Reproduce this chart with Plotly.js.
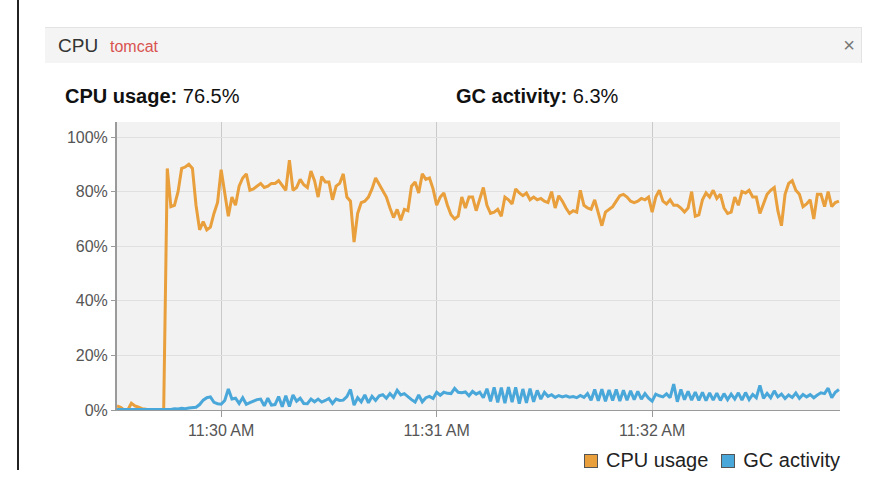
<!DOCTYPE html>
<html>
<head>
<meta charset="utf-8">
<script src="https://cdn.plot.ly/plotly-3.0.1.min.js"></script>
<style>
  html, body { margin: 0; padding: 0; background: #ffffff; }
  body { width: 880px; height: 478px; position: relative; overflow: hidden; font-family: "Liberation Sans", Arial, sans-serif; }
  #leftbar { position: absolute; left: 17px; top: 0; width: 2px; height: 470px; background: #222; }
  #header { position: absolute; left: 45px; top: 27px; width: 816px; height: 35px; background: #f4f4f4; border-top: 1px solid #e3e3e3; border-right: 1px solid #e3e3e3; }
  #header .cpu { position: absolute; left: 13px; top: 7px; font-size: 19px; color: #333; }
  #header .app { position: absolute; left: 65px; top: 10px; font-size: 16px; color: #d9534f; }
  #header .close { position: absolute; right: 6px; top: 6px; font-size: 20px; color: #777; }
  .stat { position: absolute; top: 85px; font-size: 20px; color: #111; }
  .stat b { font-weight: bold; }
  #chart { position: absolute; left: 0; top: 0; width: 880px; height: 478px; }
  #legend { position: absolute; top: 449px; left: 584px; font-size: 20px; color: #222; white-space: nowrap; }
  #legend .item { display: inline-block; margin-right: 13px; }
  #legend .sw { display: inline-block; width: 12px; height: 12px; border: 1px solid #555; vertical-align: -1px; margin-right: 8px; }
</style>
</head>
<body>
<div id="leftbar"></div>
<div id="header"><span class="cpu">CPU</span><span class="app">tomcat</span><span class="close">×</span></div>
<div class="stat" style="left:65px"><b>CPU usage:</b> 76.5%</div>
<div class="stat" style="left:456px"><b>GC activity:</b> 6.3%</div>
<div id="chart"></div>
<div id="legend"></div>
<script>
// Sampling: one sample per second starting at 11:29:31
const startTime = "2024-01-01T11:29:31";
const stepSeconds = 1;

const cpuUsage = [
  1.5, 1, 0, 0, 2.5, 1.5, 1, 0.5, 0.3, 0, 0.2, 0, 0, 0,
  88.5, 74.5, 75, 80, 88.5, 89, 90, 88.5, 75, 66, 69, 66, 67, 72, 76, 88,
  79, 71, 78, 75, 82, 85, 86.5, 80.5, 81, 82, 83, 81.5,
  82, 83, 83, 84, 82, 80.5, 91.5, 80.5, 81.5, 84.5, 82.5, 81.5, 87.5, 84,
  78, 85.5, 83.5, 83.5, 77, 82, 83, 86.5, 78, 76.5, 61.5, 72, 76, 76.5,
  78, 81, 85, 82.5, 80.5, 78, 74, 70.5, 73.5, 69.5, 73.5, 73,
  82, 83.5, 79.5, 86.5, 84.5, 85, 81, 75, 78, 79.5, 75, 71.5, 70, 71,
  78, 74, 78, 78, 73, 77, 81.5, 75, 72, 72.5, 73.5, 71, 78, 77, 75.5,
  81, 79.5, 78.5, 79.5, 77, 78, 77, 77.5, 76.5, 76, 80,
  74, 78.5, 76.5, 74, 72, 73, 72.5, 80.5, 75, 74, 73.5, 77, 72, 67.5,
  72.5, 73.5, 74.5, 76.5, 78.5, 79, 78, 76.5, 76, 76.5, 77.5, 77, 78,
  72.5, 78, 80.5, 76.5, 75.5, 77, 75, 75, 74, 72.5, 74, 80, 71, 71.5,
  77, 79.5, 78, 80.5, 77.5, 79, 74, 72, 72.5, 78, 75, 80, 79.5, 80.5,
  78, 78, 72, 75.5, 79, 80.5, 81.5, 73, 67.5, 79, 83, 84, 80.5, 79,
  74.5, 75.5, 77, 70, 79, 79, 74.5, 80, 74.5, 76, 76.5
];

const gcActivity = [
  0.2, 0.2, 0.1, 0.1, 0.2, 0.2, 0.1, 0.1, 0.2, 0.1, 0.1, 0.2, 0.1, 0.1,
  0.3, 0.2, 0.5, 0.4, 0.6, 0.5, 0.7, 0.8, 1, 2, 3.6, 4.5, 4.8, 2.8, 2.3, 2.1,
  3.5, 7.7, 4, 4.3, 2.4, 4.5, 2.1, 2.7, 3.3, 3.8, 4, 1.5,
  4.3, 1.8, 2, 4.9, 1.2, 5.2, 1.3, 5.5, 3.2, 4.3, 2.4, 2.3, 4, 3,
  4, 2.9, 3.5, 4.2, 2.4, 4, 3.5, 3.6, 4.9, 7.5, 1.8, 4.5, 3, 5.5,
  2.6, 5, 3.5, 5.2, 5.6, 4.3, 6, 4.6, 7.2, 5.5, 6, 4.8,
  3.8, 2.9, 5.5, 3, 4.5, 5, 4.2, 6.5, 5.4, 6.5, 6.1, 6, 7.9, 6.5,
  6.3, 6.6, 5.2, 6.8, 5.8, 6.5, 4.5, 7.8, 3.2, 8.3, 2.8, 8.2, 2.5, 8.4,
  2.9, 8.3, 2.3, 7.7, 2.6, 7.8, 3, 7.2, 4, 6.5, 5, 5.6,
  4.6, 5.3, 4.8, 5.2, 4.7, 4.9, 4.5, 5.3, 4.6, 6, 3.6, 7.5, 3.4, 7.6,
  3.2, 7.3, 3.5, 7.5, 3.3, 7.2, 3.6, 7, 3.8, 6.8, 4, 6, 4.3,
  3.2, 5.8, 5.2, 4.8, 5.9, 4.5, 9.5, 3, 7.5, 3.8, 6.8, 3.6, 6.6, 3.5,
  6.5, 3.4, 6.3, 3.6, 6.2, 3.5, 6, 3.8, 5.8, 4, 6.3, 3.6, 6.4, 3.8,
  5.7, 4.5, 9, 4.3, 6.1, 4.5, 7, 4.8, 5.8, 4.2, 5.5, 4.6, 6.2, 4.3,
  5.7, 4.8, 5.6, 4.5, 5.5, 6.3, 6, 8, 4.5, 6.5, 7.5
];

const seriesNames = ["CPU usage", "GC activity"];
const seriesColors = ["#e89f3c", "#4aa7d9"];
const yTickValues = [0, 20, 40, 60, 80, 100];
const xRange = ["2024-01-01 11:29:31", "2024-01-01 11:32:52.3"];

function pad(n) { return (n < 10 ? "0" : "") + n; }
function sampleTimes(n) {
  const base = new Date(startTime);
  const out = [];
  for (let i = 0; i < n; i++) {
    const d = new Date(base.getTime() + i * stepSeconds * 1000);
    out.push(d.getFullYear() + "-" + pad(d.getMonth() + 1) + "-" + pad(d.getDate()) + " " +
      pad(d.getHours()) + ":" + pad(d.getMinutes()) + ":" + pad(d.getSeconds()));
  }
  return out;
}

const times = sampleTimes(cpuUsage.length);

const traces = [
  { x: times, y: cpuUsage, type: "scatter", mode: "lines", name: seriesNames[0],
    line: { color: seriesColors[0], width: 3 }, hoverinfo: "skip" },
  { x: times, y: gcActivity, type: "scatter", mode: "lines", name: seriesNames[1],
    line: { color: seriesColors[1], width: 3 }, hoverinfo: "skip" }
];

const layout = {
  width: 880, height: 478,
  margin: { l: 117, r: 40, t: 122, b: 68, pad: 0 },
  paper_bgcolor: "rgba(0,0,0,0)",
  plot_bgcolor: "#f2f2f2",
  showlegend: false,
  font: { family: "Liberation Sans, Arial, sans-serif", size: 16, color: "#555" },
  xaxis: {
    type: "date", range: xRange,
    tick0: "2024-01-01 11:30:00", dtick: 60000, tickformat: "%-I:%M %p",
    showgrid: true, gridcolor: "#c9c9c9", gridwidth: 1,
    showline: true, linecolor: "#9a9a9a", linewidth: 1,
    ticks: "outside", ticklen: 6, tickcolor: "#9a9a9a",
    tickfont: { size: 16, color: "#555" }, zeroline: false, fixedrange: true,
    automargin: false
  },
  yaxis: {
    range: [0, 105.5], tickmode: "array", tickvals: yTickValues,
    ticktext: yTickValues.map(function (v) { return v + "%"; }),
    showgrid: true, gridcolor: "#e0e0e0", gridwidth: 1,
    showline: true, linecolor: "#9a9a9a", linewidth: 2,
    ticks: "outside", ticklen: 4, tickcolor: "#9a9a9a",
    tickfont: { size: 16, color: "#555" }, zeroline: false, fixedrange: true,
    automargin: false
  }
};

Plotly.newPlot("chart", traces, layout, { displayModeBar: false, staticPlot: true });

// Legend built from the same series names and colours
const legendEl = document.getElementById("legend");
seriesNames.forEach(function (name, i) {
  const item = document.createElement("span");
  item.className = "item";
  const sw = document.createElement("span");
  sw.className = "sw";
  sw.style.background = seriesColors[i];
  item.appendChild(sw);
  item.appendChild(document.createTextNode(name));
  legendEl.appendChild(item);
});
</script>
</body>
</html>
